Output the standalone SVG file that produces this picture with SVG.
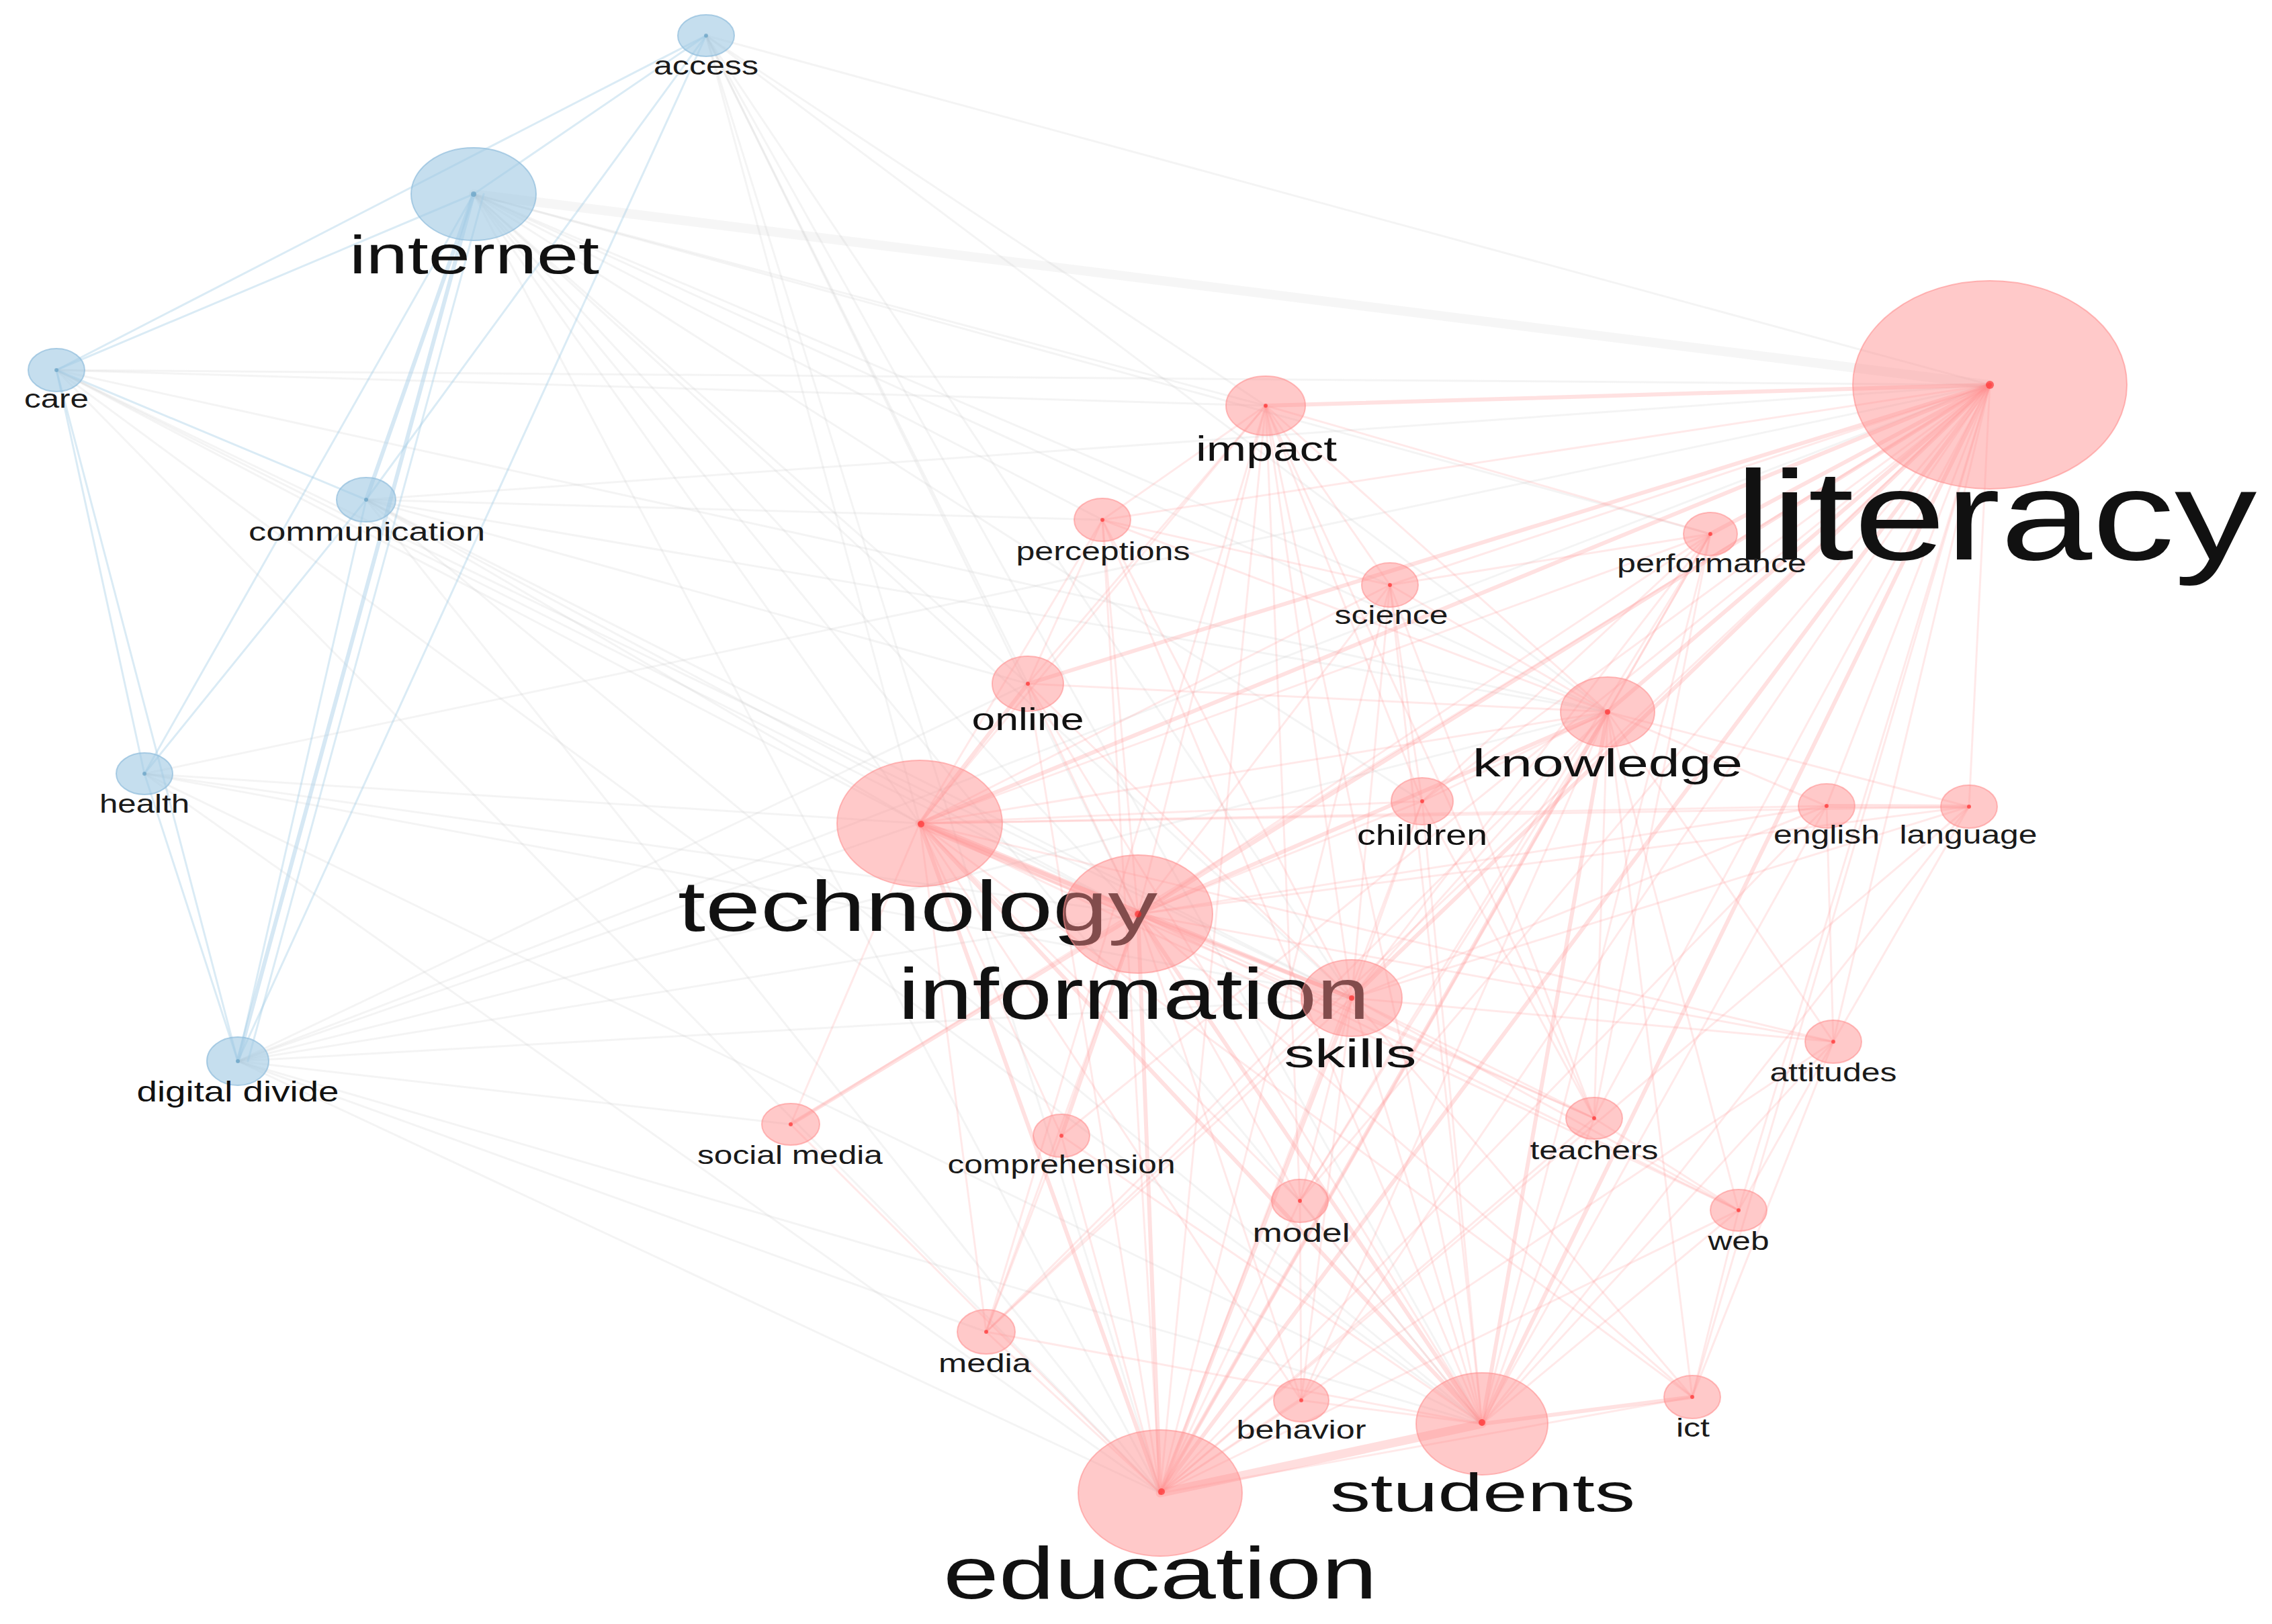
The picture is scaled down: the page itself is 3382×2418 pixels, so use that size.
<svg xmlns="http://www.w3.org/2000/svg" width="3382" height="2418" viewBox="0 0 3382 2418">
<style>
.bg{fill:#ffffff}
line{stroke-linecap:round}
.r{stroke:#ff9090;stroke-width:3;stroke-opacity:0.2}
.rs{stroke:#ff9090;stroke-width:6;stroke-opacity:0.27}
.rt{stroke:#ff9a9a;stroke-width:13;stroke-opacity:0.33}
.g{stroke:#c8c8c8;stroke-width:3;stroke-opacity:0.2}
.gs{stroke:#d4d4d4;stroke-width:14;stroke-opacity:0.22}
.b{stroke:#a3cde6;stroke-width:3;stroke-opacity:0.4}
.bs{stroke:#a3cde6;stroke-width:6;stroke-opacity:0.45}
.nb ellipse{fill:#9ec8e3;fill-opacity:0.6;stroke:#8fbcdb;stroke-width:2;stroke-opacity:0.7}
.nr ellipse{fill:#ff8f8f;fill-opacity:0.48;stroke:#ff8f8f;stroke-width:2;stroke-opacity:0.6}
.nr circle{fill:#ff2020;fill-opacity:0.6}
.nb circle{fill:#4d8fb8;fill-opacity:0.5}
text{font-family:"Liberation Sans",Arial,sans-serif;text-anchor:middle;fill:#111}
.s{font-size:38px;fill:#1a1a1a}
</style>
<rect class="bg" x="0" y="0" width="3382" height="2418"/>
<g id="connectors">
<line class="gs" x1="705" y1="289" x2="2962" y2="573"/>
<line class="g" x1="705" y1="289" x2="1369" y2="1226"/>
<line class="g" x1="705" y1="289" x2="1694" y2="1361"/>
<line class="g" x1="705" y1="289" x2="1727" y2="2223"/>
<line class="g" x1="705" y1="289" x2="2206" y2="2120"/>
<line class="g" x1="705" y1="289" x2="2393" y2="1060"/>
<line class="g" x1="705" y1="289" x2="2012" y2="1486"/>
<line class="g" x1="705" y1="289" x2="1884" y2="604"/>
<line class="g" x1="705" y1="289" x2="1530" y2="1018"/>
<line class="g" x1="705" y1="289" x2="2117" y2="1193"/>
<line class="g" x1="705" y1="289" x2="1641" y2="774"/>
<line class="g" x1="705" y1="289" x2="2546" y2="795"/>
<line class="g" x1="705" y1="289" x2="2069" y2="871"/>
<line class="g" x1="1051" y1="53" x2="2962" y2="573"/>
<line class="g" x1="1051" y1="53" x2="1369" y2="1226"/>
<line class="g" x1="1051" y1="53" x2="1694" y2="1361"/>
<line class="g" x1="1051" y1="53" x2="1727" y2="2223"/>
<line class="g" x1="1051" y1="53" x2="2206" y2="2120"/>
<line class="g" x1="1051" y1="53" x2="2393" y2="1060"/>
<line class="g" x1="1051" y1="53" x2="2012" y2="1486"/>
<line class="g" x1="1051" y1="53" x2="1884" y2="604"/>
<line class="g" x1="1051" y1="53" x2="1530" y2="1018"/>
<line class="g" x1="84" y1="551" x2="2962" y2="573"/>
<line class="g" x1="84" y1="551" x2="1369" y2="1226"/>
<line class="g" x1="84" y1="551" x2="1694" y2="1361"/>
<line class="g" x1="84" y1="551" x2="1727" y2="2223"/>
<line class="g" x1="84" y1="551" x2="2206" y2="2120"/>
<line class="g" x1="84" y1="551" x2="2012" y2="1486"/>
<line class="g" x1="84" y1="551" x2="2393" y2="1060"/>
<line class="g" x1="84" y1="551" x2="1884" y2="604"/>
<line class="g" x1="545" y1="744" x2="2962" y2="573"/>
<line class="g" x1="545" y1="744" x2="1369" y2="1226"/>
<line class="g" x1="545" y1="744" x2="1694" y2="1361"/>
<line class="g" x1="545" y1="744" x2="1727" y2="2223"/>
<line class="g" x1="545" y1="744" x2="2206" y2="2120"/>
<line class="g" x1="545" y1="744" x2="2012" y2="1486"/>
<line class="g" x1="545" y1="744" x2="2393" y2="1060"/>
<line class="g" x1="545" y1="744" x2="1530" y2="1018"/>
<line class="g" x1="545" y1="744" x2="1641" y2="774"/>
<line class="g" x1="215" y1="1152" x2="1369" y2="1226"/>
<line class="g" x1="215" y1="1152" x2="1694" y2="1361"/>
<line class="g" x1="215" y1="1152" x2="1727" y2="2223"/>
<line class="g" x1="215" y1="1152" x2="2962" y2="573"/>
<line class="g" x1="215" y1="1152" x2="2206" y2="2120"/>
<line class="g" x1="215" y1="1152" x2="2012" y2="1486"/>
<line class="g" x1="354" y1="1580" x2="1369" y2="1226"/>
<line class="g" x1="354" y1="1580" x2="1694" y2="1361"/>
<line class="g" x1="354" y1="1580" x2="1727" y2="2223"/>
<line class="g" x1="354" y1="1580" x2="2962" y2="573"/>
<line class="g" x1="354" y1="1580" x2="2206" y2="2120"/>
<line class="g" x1="354" y1="1580" x2="2012" y2="1486"/>
<line class="g" x1="354" y1="1580" x2="2393" y2="1060"/>
<line class="g" x1="354" y1="1580" x2="1530" y2="1018"/>
<line class="g" x1="354" y1="1580" x2="1177" y2="1674"/>
<line class="g" x1="354" y1="1580" x2="1468" y2="1983"/>
<line class="b" x1="705" y1="289" x2="1051" y2="53"/>
<line class="b" x1="705" y1="289" x2="84" y2="551"/>
<line class="bs" x1="705" y1="289" x2="545" y2="744"/>
<line class="bs" x1="705" y1="289" x2="354" y2="1580"/>
<line class="b" x1="720" y1="289" x2="369" y2="1580"/>
<line class="b" x1="705" y1="289" x2="215" y2="1152"/>
<line class="b" x1="1051" y1="53" x2="84" y2="551"/>
<line class="b" x1="1051" y1="53" x2="354" y2="1580"/>
<line class="b" x1="1051" y1="53" x2="545" y2="744"/>
<line class="b" x1="84" y1="551" x2="215" y2="1152"/>
<line class="b" x1="84" y1="551" x2="354" y2="1580"/>
<line class="b" x1="84" y1="551" x2="545" y2="744"/>
<line class="b" x1="215" y1="1152" x2="354" y2="1580"/>
<line class="b" x1="545" y1="744" x2="354" y2="1580"/>
<line class="b" x1="545" y1="744" x2="215" y2="1152"/>
<line class="rs" x1="2962" y1="573" x2="1369" y2="1226"/>
<line class="rs" x1="2962" y1="573" x2="1694" y2="1361"/>
<line class="rs" x1="2962" y1="573" x2="1727" y2="2223"/>
<line class="rs" x1="2962" y1="573" x2="2206" y2="2120"/>
<line class="rs" x1="2962" y1="573" x2="2393" y2="1060"/>
<line class="rs" x1="2962" y1="573" x2="2012" y2="1486"/>
<line class="rs" x1="2962" y1="573" x2="1530" y2="1018"/>
<line class="rs" x1="2962" y1="573" x2="1884" y2="604"/>
<line class="r" x1="2962" y1="573" x2="1641" y2="774"/>
<line class="rs" x1="2962" y1="573" x2="2546" y2="795"/>
<line class="r" x1="2962" y1="573" x2="2069" y2="871"/>
<line class="r" x1="2962" y1="573" x2="2117" y2="1193"/>
<line class="r" x1="2962" y1="573" x2="2719" y2="1200"/>
<line class="r" x1="2962" y1="573" x2="2931" y2="1201"/>
<line class="r" x1="2962" y1="573" x2="2729" y2="1551"/>
<line class="r" x1="2962" y1="573" x2="1177" y2="1674"/>
<line class="r" x1="2962" y1="573" x2="1580" y2="1691"/>
<line class="r" x1="2962" y1="573" x2="2373" y2="1665"/>
<line class="r" x1="2962" y1="573" x2="1935" y2="1788"/>
<line class="r" x1="2962" y1="573" x2="2588" y2="1802"/>
<line class="r" x1="2962" y1="573" x2="1468" y2="1983"/>
<line class="r" x1="2962" y1="573" x2="1937" y2="2085"/>
<line class="r" x1="2962" y1="573" x2="2519" y2="2080"/>
<line class="r" x1="1727" y1="2223" x2="1884" y2="604"/>
<line class="r" x1="1727" y1="2223" x2="1641" y2="774"/>
<line class="r" x1="1727" y1="2223" x2="2546" y2="795"/>
<line class="r" x1="1727" y1="2223" x2="2069" y2="871"/>
<line class="r" x1="1727" y1="2223" x2="1530" y2="1018"/>
<line class="rs" x1="1727" y1="2223" x2="2393" y2="1060"/>
<line class="rs" x1="1727" y1="2223" x2="1369" y2="1226"/>
<line class="r" x1="1727" y1="2223" x2="2117" y2="1193"/>
<line class="r" x1="1727" y1="2223" x2="2719" y2="1200"/>
<line class="r" x1="1727" y1="2223" x2="2931" y2="1201"/>
<line class="rs" x1="1727" y1="2223" x2="1694" y2="1361"/>
<line class="rs" x1="1727" y1="2223" x2="2012" y2="1486"/>
<line class="r" x1="1727" y1="2223" x2="2729" y2="1551"/>
<line class="r" x1="1727" y1="2223" x2="1177" y2="1674"/>
<line class="r" x1="1727" y1="2223" x2="1580" y2="1691"/>
<line class="r" x1="1727" y1="2223" x2="2373" y2="1665"/>
<line class="r" x1="1727" y1="2223" x2="1935" y2="1788"/>
<line class="r" x1="1727" y1="2223" x2="2588" y2="1802"/>
<line class="r" x1="1727" y1="2223" x2="1468" y2="1983"/>
<line class="r" x1="1727" y1="2223" x2="1937" y2="2085"/>
<line class="r" x1="1727" y1="2223" x2="2519" y2="2080"/>
<line class="rt" x1="1727" y1="2223" x2="2206" y2="2120"/>
<line class="r" x1="2206" y1="2120" x2="1884" y2="604"/>
<line class="r" x1="2206" y1="2120" x2="1641" y2="774"/>
<line class="r" x1="2206" y1="2120" x2="2546" y2="795"/>
<line class="r" x1="2206" y1="2120" x2="2069" y2="871"/>
<line class="r" x1="2206" y1="2120" x2="1530" y2="1018"/>
<line class="rs" x1="2206" y1="2120" x2="2393" y2="1060"/>
<line class="rs" x1="2206" y1="2120" x2="1369" y2="1226"/>
<line class="r" x1="2206" y1="2120" x2="2117" y2="1193"/>
<line class="r" x1="2206" y1="2120" x2="2719" y2="1200"/>
<line class="r" x1="2206" y1="2120" x2="2931" y2="1201"/>
<line class="rs" x1="2206" y1="2120" x2="1694" y2="1361"/>
<line class="r" x1="2206" y1="2120" x2="2012" y2="1486"/>
<line class="r" x1="2206" y1="2120" x2="2729" y2="1551"/>
<line class="r" x1="2206" y1="2120" x2="1580" y2="1691"/>
<line class="r" x1="2206" y1="2120" x2="2373" y2="1665"/>
<line class="r" x1="2206" y1="2120" x2="1935" y2="1788"/>
<line class="r" x1="2206" y1="2120" x2="2588" y2="1802"/>
<line class="r" x1="2206" y1="2120" x2="1468" y2="1983"/>
<line class="r" x1="2206" y1="2120" x2="1937" y2="2085"/>
<line class="rs" x1="2206" y1="2120" x2="2519" y2="2080"/>
<line class="r" x1="1369" y1="1226" x2="1884" y2="604"/>
<line class="r" x1="1369" y1="1226" x2="1641" y2="774"/>
<line class="r" x1="1369" y1="1226" x2="2546" y2="795"/>
<line class="r" x1="1369" y1="1226" x2="2069" y2="871"/>
<line class="rs" x1="1369" y1="1226" x2="1530" y2="1018"/>
<line class="r" x1="1369" y1="1226" x2="2393" y2="1060"/>
<line class="r" x1="1369" y1="1226" x2="2117" y2="1193"/>
<line class="r" x1="1369" y1="1226" x2="2719" y2="1200"/>
<line class="r" x1="1369" y1="1226" x2="2931" y2="1201"/>
<line class="rt" x1="1369" y1="1226" x2="1694" y2="1361"/>
<line class="rs" x1="1369" y1="1226" x2="2012" y2="1486"/>
<line class="r" x1="1369" y1="1226" x2="2729" y2="1551"/>
<line class="r" x1="1369" y1="1226" x2="1177" y2="1674"/>
<line class="r" x1="1369" y1="1226" x2="1580" y2="1691"/>
<line class="r" x1="1369" y1="1226" x2="2373" y2="1665"/>
<line class="r" x1="1369" y1="1226" x2="1935" y2="1788"/>
<line class="r" x1="1369" y1="1226" x2="2588" y2="1802"/>
<line class="r" x1="1369" y1="1226" x2="1468" y2="1983"/>
<line class="r" x1="1369" y1="1226" x2="1937" y2="2085"/>
<line class="r" x1="1369" y1="1226" x2="2519" y2="2080"/>
<line class="r" x1="1694" y1="1361" x2="1884" y2="604"/>
<line class="r" x1="1694" y1="1361" x2="1641" y2="774"/>
<line class="r" x1="1694" y1="1361" x2="2546" y2="795"/>
<line class="r" x1="1694" y1="1361" x2="2069" y2="871"/>
<line class="r" x1="1694" y1="1361" x2="1530" y2="1018"/>
<line class="rs" x1="1694" y1="1361" x2="2393" y2="1060"/>
<line class="r" x1="1694" y1="1361" x2="2117" y2="1193"/>
<line class="r" x1="1694" y1="1361" x2="2719" y2="1200"/>
<line class="r" x1="1694" y1="1361" x2="2931" y2="1201"/>
<line class="rs" x1="1694" y1="1361" x2="2012" y2="1486"/>
<line class="r" x1="1694" y1="1361" x2="2729" y2="1551"/>
<line class="rs" x1="1694" y1="1361" x2="1177" y2="1674"/>
<line class="rs" x1="1694" y1="1361" x2="1580" y2="1691"/>
<line class="r" x1="1694" y1="1361" x2="2373" y2="1665"/>
<line class="r" x1="1694" y1="1361" x2="1935" y2="1788"/>
<line class="r" x1="1694" y1="1361" x2="2588" y2="1802"/>
<line class="r" x1="1694" y1="1361" x2="1468" y2="1983"/>
<line class="r" x1="1694" y1="1361" x2="1937" y2="2085"/>
<line class="r" x1="1694" y1="1361" x2="2519" y2="2080"/>
<line class="r" x1="2393" y1="1060" x2="1884" y2="604"/>
<line class="r" x1="2393" y1="1060" x2="1641" y2="774"/>
<line class="r" x1="2393" y1="1060" x2="2546" y2="795"/>
<line class="r" x1="2393" y1="1060" x2="2069" y2="871"/>
<line class="r" x1="2393" y1="1060" x2="1530" y2="1018"/>
<line class="r" x1="2393" y1="1060" x2="2117" y2="1193"/>
<line class="r" x1="2393" y1="1060" x2="2719" y2="1200"/>
<line class="r" x1="2393" y1="1060" x2="2931" y2="1201"/>
<line class="r" x1="2393" y1="1060" x2="2012" y2="1486"/>
<line class="r" x1="2393" y1="1060" x2="2729" y2="1551"/>
<line class="r" x1="2393" y1="1060" x2="2373" y2="1665"/>
<line class="r" x1="2393" y1="1060" x2="1935" y2="1788"/>
<line class="r" x1="2393" y1="1060" x2="2588" y2="1802"/>
<line class="r" x1="2393" y1="1060" x2="1468" y2="1983"/>
<line class="r" x1="2393" y1="1060" x2="1937" y2="2085"/>
<line class="r" x1="2393" y1="1060" x2="2519" y2="2080"/>
<line class="r" x1="2012" y1="1486" x2="1884" y2="604"/>
<line class="r" x1="2012" y1="1486" x2="1641" y2="774"/>
<line class="r" x1="2012" y1="1486" x2="2546" y2="795"/>
<line class="r" x1="2012" y1="1486" x2="2069" y2="871"/>
<line class="r" x1="2012" y1="1486" x2="1530" y2="1018"/>
<line class="r" x1="2012" y1="1486" x2="2117" y2="1193"/>
<line class="r" x1="2012" y1="1486" x2="2719" y2="1200"/>
<line class="r" x1="2012" y1="1486" x2="2931" y2="1201"/>
<line class="r" x1="2012" y1="1486" x2="2729" y2="1551"/>
<line class="r" x1="2012" y1="1486" x2="2373" y2="1665"/>
<line class="r" x1="2012" y1="1486" x2="1935" y2="1788"/>
<line class="r" x1="2012" y1="1486" x2="2588" y2="1802"/>
<line class="r" x1="2012" y1="1486" x2="1468" y2="1983"/>
<line class="r" x1="2012" y1="1486" x2="1937" y2="2085"/>
<line class="r" x1="2012" y1="1486" x2="2519" y2="2080"/>
<line class="r" x1="1884" y1="604" x2="1641" y2="774"/>
<line class="r" x1="1884" y1="604" x2="2546" y2="795"/>
<line class="r" x1="1884" y1="604" x2="2069" y2="871"/>
<line class="r" x1="1884" y1="604" x2="1530" y2="1018"/>
<line class="r" x1="1884" y1="604" x2="2117" y2="1193"/>
<line class="r" x1="1884" y1="604" x2="2373" y2="1665"/>
<line class="r" x1="1884" y1="604" x2="1935" y2="1788"/>
<line class="r" x1="1884" y1="604" x2="1468" y2="1983"/>
<line class="rs" x1="2719" y1="1200" x2="2931" y2="1201"/>
<line class="r" x1="2546" y1="795" x2="1935" y2="1788"/>
<line class="r" x1="2546" y1="795" x2="2373" y2="1665"/>
<line class="r" x1="2546" y1="795" x2="2069" y2="871"/>
<line class="r" x1="2069" y1="871" x2="2117" y2="1193"/>
<line class="r" x1="2729" y1="1551" x2="2588" y2="1802"/>
<line class="r" x1="2373" y1="1665" x2="2588" y2="1802"/>
<line class="r" x1="2519" y1="2080" x2="2588" y2="1802"/>
<line class="r" x1="2729" y1="1551" x2="2519" y2="2080"/>
<line class="r" x1="2117" y1="1193" x2="2373" y2="1665"/>
<line class="r" x1="1530" y1="1018" x2="1641" y2="774"/>
<line class="r" x1="1580" y1="1691" x2="1468" y2="1983"/>
<line class="r" x1="2931" y1="1201" x2="2729" y2="1551"/>
<line class="r" x1="2719" y1="1200" x2="2729" y2="1551"/>
<line class="r" x1="1641" y1="774" x2="2069" y2="871"/>
<line class="r" x1="2546" y1="795" x2="2117" y2="1193"/>
<line class="r" x1="1935" y1="1788" x2="1937" y2="2085"/>
<line class="r" x1="2069" y1="871" x2="2373" y2="1665"/>
</g>
<g id="node-access" class="nb"><ellipse cx="1051" cy="53" rx="42" ry="31"/><circle cx="1051" cy="53" r="3"/><text class="s" x="1051" y="111" textLength="156" lengthAdjust="spacingAndGlyphs">access</text></g>
<g id="node-internet" class="nb"><ellipse cx="705" cy="289" rx="93" ry="69"/><circle cx="705" cy="289" r="4"/><text x="706" y="407" font-size="80" textLength="372" lengthAdjust="spacingAndGlyphs">internet</text></g>
<g id="node-care" class="nb"><ellipse cx="84" cy="551" rx="42" ry="32"/><circle cx="84" cy="551" r="3"/><text class="s" x="84" y="607" textLength="96" lengthAdjust="spacingAndGlyphs">care</text></g>
<g id="node-communication" class="nb"><ellipse cx="545" cy="744" rx="44" ry="33"/><circle cx="545" cy="744" r="3"/><text class="s" x="546" y="805" textLength="352" lengthAdjust="spacingAndGlyphs">communication</text></g>
<g id="node-health" class="nb"><ellipse cx="215" cy="1152" rx="42" ry="31"/><circle cx="215" cy="1152" r="3"/><text class="s" x="215" y="1210" textLength="134" lengthAdjust="spacingAndGlyphs">health</text></g>
<g id="node-digital-divide" class="nb"><ellipse cx="354" cy="1580" rx="46" ry="36"/><circle cx="354" cy="1580" r="3"/><text x="354" y="1640" font-size="42" textLength="301" lengthAdjust="spacingAndGlyphs">digital divide</text></g>
<g id="node-literacy" class="nr"><ellipse cx="2962" cy="573" rx="204" ry="155"/><circle cx="2962" cy="573" r="6"/><text x="2971" y="833" font-size="190" fill="#000" textLength="777" lengthAdjust="spacingAndGlyphs">literacy</text></g>
<g id="node-impact" class="nr"><ellipse cx="1884" cy="604" rx="59" ry="44"/><circle cx="1884" cy="604" r="3"/><text x="1885" y="686" font-size="52" textLength="210" lengthAdjust="spacingAndGlyphs">impact</text></g>
<g id="node-perceptions" class="nr"><ellipse cx="1641" cy="774" rx="42" ry="32"/><circle cx="1641" cy="774" r="3"/><text class="s" x="1642" y="834" textLength="259" lengthAdjust="spacingAndGlyphs">perceptions</text></g>
<g id="node-performance" class="nr"><ellipse cx="2546" cy="795" rx="40" ry="32"/><circle cx="2546" cy="795" r="3"/><text class="s" x="2548" y="852" textLength="282" lengthAdjust="spacingAndGlyphs">performance</text></g>
<g id="node-science" class="nr"><ellipse cx="2069" cy="871" rx="42" ry="33"/><circle cx="2069" cy="871" r="3"/><text class="s" x="2071" y="929" textLength="169" lengthAdjust="spacingAndGlyphs">science</text></g>
<g id="node-online" class="nr"><ellipse cx="1530" cy="1018" rx="53" ry="41"/><circle cx="1530" cy="1018" r="3"/><text x="1530" y="1087" font-size="46" textLength="167" lengthAdjust="spacingAndGlyphs">online</text></g>
<g id="node-knowledge" class="nr"><ellipse cx="2393" cy="1060" rx="70" ry="52"/><circle cx="2393" cy="1060" r="4"/><text x="2393" y="1156" font-size="58" textLength="402" lengthAdjust="spacingAndGlyphs">knowledge</text></g>
<g id="node-technology" class="nr"><ellipse cx="1369" cy="1226" rx="123" ry="94"/><circle cx="1371" cy="1227" r="5"/><text x="1366" y="1386" font-size="106" fill="#000" textLength="714" lengthAdjust="spacingAndGlyphs">technology</text></g>
<g id="node-children" class="nr"><ellipse cx="2117" cy="1193" rx="46" ry="35"/><circle cx="2117" cy="1193" r="3"/><text x="2117" y="1258" font-size="42" textLength="194" lengthAdjust="spacingAndGlyphs">children</text></g>
<g id="node-english" class="nr"><ellipse cx="2719" cy="1200" rx="42" ry="33"/><circle cx="2719" cy="1200" r="3"/><text class="s" x="2719" y="1256" textLength="158" lengthAdjust="spacingAndGlyphs">english</text></g>
<g id="node-language" class="nr"><ellipse cx="2931" cy="1201" rx="42" ry="32"/><circle cx="2931" cy="1201" r="3"/><text class="s" x="2930" y="1256" textLength="205" lengthAdjust="spacingAndGlyphs">language</text></g>
<g id="node-information" class="nr"><ellipse cx="1694" cy="1361" rx="111" ry="88"/><circle cx="1694" cy="1361" r="5"/><text x="1688" y="1517" font-size="108" fill="#000" textLength="702" lengthAdjust="spacingAndGlyphs">information</text></g>
<g id="node-skills" class="nr"><ellipse cx="2012" cy="1486" rx="75" ry="57"/><circle cx="2012" cy="1486" r="4"/><text x="2010" y="1589" font-size="60" textLength="197" lengthAdjust="spacingAndGlyphs">skills</text></g>
<g id="node-attitudes" class="nr"><ellipse cx="2729" cy="1551" rx="42" ry="32"/><circle cx="2729" cy="1551" r="3"/><text class="s" x="2729" y="1610" textLength="189" lengthAdjust="spacingAndGlyphs">attitudes</text></g>
<g id="node-social-media" class="nr"><ellipse cx="1177" cy="1674" rx="43" ry="31"/><circle cx="1177" cy="1674" r="3"/><text class="s" x="1176" y="1733" textLength="276" lengthAdjust="spacingAndGlyphs">social media</text></g>
<g id="node-comprehension" class="nr"><ellipse cx="1580" cy="1691" rx="42" ry="32"/><circle cx="1580" cy="1691" r="3"/><text class="s" x="1580" y="1747" textLength="339" lengthAdjust="spacingAndGlyphs">comprehension</text></g>
<g id="node-teachers" class="nr"><ellipse cx="2373" cy="1665" rx="42" ry="31"/><circle cx="2373" cy="1665" r="3"/><text class="s" x="2373" y="1726" textLength="191" lengthAdjust="spacingAndGlyphs">teachers</text></g>
<g id="node-model" class="nr"><ellipse cx="1935" cy="1788" rx="42" ry="32"/><circle cx="1935" cy="1788" r="3"/><text class="s" x="1937" y="1849" textLength="145" lengthAdjust="spacingAndGlyphs">model</text></g>
<g id="node-web" class="nr"><ellipse cx="2588" cy="1802" rx="42" ry="31"/><circle cx="2588" cy="1802" r="3"/><text class="s" x="2588" y="1861" textLength="91" lengthAdjust="spacingAndGlyphs">web</text></g>
<g id="node-media" class="nr"><ellipse cx="1468" cy="1983" rx="43" ry="33"/><circle cx="1468" cy="1983" r="3"/><text class="s" x="1466" y="2043" textLength="138" lengthAdjust="spacingAndGlyphs">media</text></g>
<g id="node-behavior" class="nr"><ellipse cx="1937" cy="2085" rx="41" ry="32"/><circle cx="1937" cy="2085" r="3"/><text class="s" x="1937" y="2142" textLength="193" lengthAdjust="spacingAndGlyphs">behavior</text></g>
<g id="node-ict" class="nr"><ellipse cx="2519" cy="2080" rx="42" ry="32"/><circle cx="2519" cy="2080" r="3"/><text class="s" x="2520" y="2139" textLength="50" lengthAdjust="spacingAndGlyphs">ict</text></g>
<g id="node-students" class="nr"><ellipse cx="2206" cy="2120" rx="98" ry="76"/><circle cx="2206" cy="2118" r="5"/><text x="2207" y="2250" font-size="80" textLength="454" lengthAdjust="spacingAndGlyphs">students</text></g>
<g id="node-education" class="nr"><ellipse cx="1727" cy="2223" rx="122" ry="94"/><circle cx="1729" cy="2221" r="5"/><text x="1727" y="2380" font-size="110" fill="#000" textLength="646" lengthAdjust="spacingAndGlyphs">education</text></g>
</svg>
